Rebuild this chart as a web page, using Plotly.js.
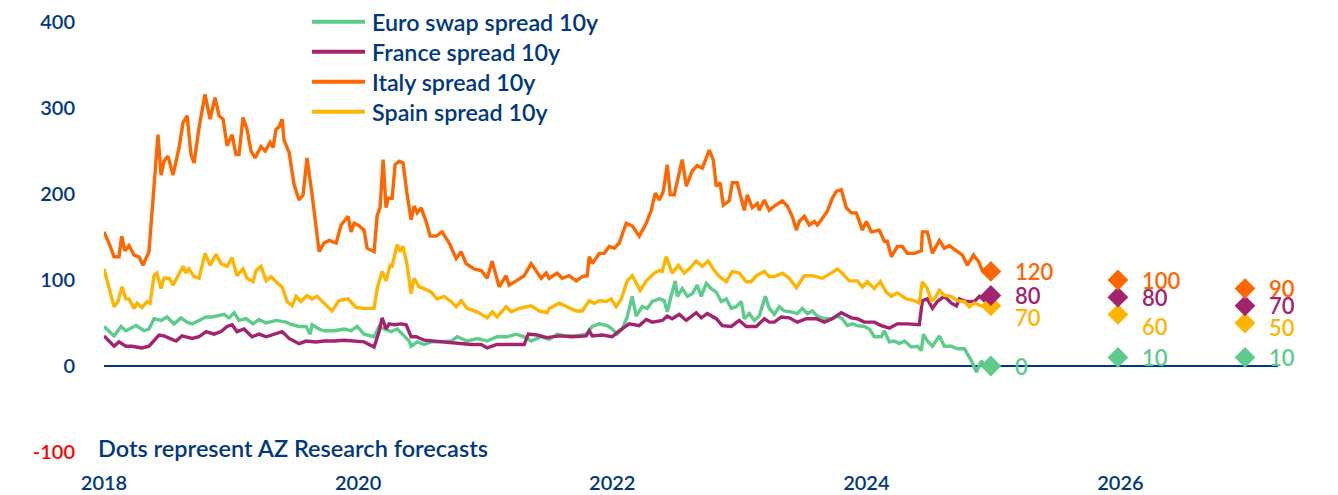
<!DOCTYPE html>
<html>
<head>
<meta charset="utf-8">
<script src="https://cdn.plot.ly/plotly-3.0.1.min.js"></script>
<style>html,body{margin:0;padding:0;background:#fff;}#chart{width:1338px;height:495px;}</style>
</head>
<body>
<div id="chart"></div>
<script>
// ---------- DATA (decimal year, bp) ----------
const seriesNames = ['Euro swap spread 10y', 'France spread 10y', 'Italy spread 10y', 'Spain spread 10y'];

const euroSwap = [[2018.000,46],[2018.039,40],[2018.079,35],[2018.134,46],[2018.173,41],[2018.252,47],[2018.315,41],[2018.354,43],[2018.394,55],[2018.449,53],[2018.496,57],[2018.551,49],[2018.606,56],[2018.654,51],[2018.693,49],[2018.748,53],[2018.803,57],[2018.850,57],[2018.945,60],[2018.984,56],[2019.024,62],[2019.063,53],[2019.118,55],[2019.173,49],[2019.220,54],[2019.276,50],[2019.354,53],[2019.433,51],[2019.480,48],[2019.535,46],[2019.591,46],[2019.622,37],[2019.638,48],[2019.693,43],[2019.732,41],[2019.811,41],[2019.890,43],[2019.945,41],[2019.992,46],[2020.047,37],[2020.126,34],[2020.165,46],[2020.205,43],[2020.260,40],[2020.307,43],[2020.362,35],[2020.402,29],[2020.417,23],[2020.465,28],[2020.520,25],[2020.575,28],[2020.654,28],[2020.732,29],[2020.780,34],[2020.858,29],[2020.937,32],[2021.016,29],[2021.094,34],[2021.173,34],[2021.244,37],[2021.307,34],[2021.362,29],[2021.441,34],[2021.504,31],[2021.567,37],[2021.638,35],[2021.717,35],[2021.795,37],[2021.843,46],[2021.898,49],[2021.961,47],[2022.000,43],[2022.039,37],[2022.079,43],[2022.118,57],[2022.157,81],[2022.189,58],[2022.236,69],[2022.276,67],[2022.315,75],[2022.370,78],[2022.409,76],[2022.433,63],[2022.465,82],[2022.496,99],[2022.512,81],[2022.551,90],[2022.591,81],[2022.630,84],[2022.669,94],[2022.701,81],[2022.740,96],[2022.780,90],[2022.819,86],[2022.858,75],[2022.898,78],[2022.937,67],[2022.976,69],[2023.016,75],[2023.039,55],[2023.079,61],[2023.118,53],[2023.157,58],[2023.205,81],[2023.236,67],[2023.276,60],[2023.315,69],[2023.354,64],[2023.409,63],[2023.457,61],[2023.496,67],[2023.535,61],[2023.575,64],[2023.614,58],[2023.669,55],[2023.724,55],[2023.772,58],[2023.811,55],[2023.850,47],[2023.890,49],[2023.929,47],[2023.984,46],[2024.024,43],[2024.063,34],[2024.118,34],[2024.142,41],[2024.181,28],[2024.220,29],[2024.260,26],[2024.299,29],[2024.354,22],[2024.402,23],[2024.433,18],[2024.449,37],[2024.480,29],[2024.520,23],[2024.575,35],[2024.614,23],[2024.669,23],[2024.717,20],[2024.772,20],[2024.827,6],[2024.866,-7],[2024.906,6],[2024.929,0]];

const france = [[2018.000,35],[2018.039,29],[2018.079,23],[2018.118,28],[2018.173,23],[2018.220,23],[2018.299,21],[2018.354,23],[2018.394,29],[2018.433,36],[2018.472,35],[2018.528,32],[2018.567,29],[2018.614,35],[2018.693,32],[2018.748,34],[2018.803,40],[2018.866,37],[2018.921,40],[2018.969,46],[2019.008,48],[2019.047,40],[2019.102,43],[2019.165,34],[2019.220,37],[2019.276,34],[2019.339,37],[2019.402,40],[2019.457,32],[2019.535,26],[2019.591,29],[2019.669,28],[2019.732,29],[2019.811,29],[2019.890,30],[2019.969,29],[2020.047,28],[2020.126,22],[2020.165,40],[2020.189,56],[2020.220,43],[2020.244,49],[2020.283,48],[2020.339,49],[2020.378,48],[2020.417,34],[2020.457,34],[2020.520,30],[2020.598,29],[2020.677,28],[2020.780,26],[2020.890,25],[2020.969,25],[2021.016,21],[2021.094,25],[2021.205,25],[2021.307,25],[2021.339,37],[2021.409,36],[2021.488,33],[2021.583,35],[2021.685,34],[2021.795,35],[2021.819,41],[2021.843,35],[2021.921,36],[2022.000,34],[2022.055,41],[2022.134,49],[2022.213,47],[2022.268,54],[2022.315,51],[2022.394,53],[2022.433,58],[2022.472,55],[2022.528,60],[2022.583,53],[2022.661,62],[2022.701,56],[2022.748,61],[2022.819,55],[2022.866,47],[2022.937,46],[2023.000,53],[2023.055,46],[2023.134,46],[2023.197,55],[2023.236,51],[2023.276,51],[2023.331,57],[2023.394,56],[2023.457,51],[2023.528,55],[2023.606,55],[2023.669,51],[2023.732,55],[2023.803,62],[2023.882,56],[2023.929,55],[2023.984,51],[2024.063,51],[2024.118,47],[2024.181,44],[2024.244,49],[2024.323,49],[2024.417,48],[2024.441,76],[2024.480,78],[2024.520,67],[2024.559,75],[2024.614,81],[2024.669,73],[2024.709,70],[2024.732,78],[2024.787,75],[2024.850,75],[2024.890,81],[2024.929,76],[2024.976,82]];

const italy = [[2018.000,156],[2018.039,143],[2018.079,127],[2018.118,127],[2018.139,151],[2018.165,134],[2018.197,140],[2018.236,129],[2018.276,127],[2018.307,117],[2018.354,133],[2018.394,207],[2018.425,269],[2018.449,222],[2018.472,238],[2018.504,244],[2018.543,222],[2018.591,254],[2018.622,283],[2018.654,291],[2018.685,246],[2018.709,236],[2018.748,277],[2018.795,316],[2018.835,287],[2018.874,312],[2018.906,291],[2018.937,287],[2018.969,256],[2019.008,269],[2019.039,246],[2019.063,246],[2019.094,289],[2019.126,275],[2019.157,250],[2019.189,242],[2019.236,255],[2019.268,250],[2019.307,260],[2019.331,254],[2019.354,275],[2019.378,278],[2019.402,287],[2019.417,263],[2019.457,248],[2019.496,211],[2019.535,193],[2019.567,199],[2019.598,242],[2019.638,199],[2019.669,160],[2019.693,133],[2019.732,143],[2019.772,146],[2019.827,143],[2019.866,164],[2019.921,174],[2019.945,156],[2019.969,166],[2020.008,163],[2020.047,158],[2020.071,137],[2020.126,133],[2020.150,175],[2020.173,184],[2020.197,240],[2020.220,184],[2020.236,195],[2020.268,195],[2020.291,234],[2020.323,238],[2020.354,236],[2020.386,199],[2020.417,170],[2020.441,186],[2020.465,178],[2020.496,184],[2020.535,168],[2020.567,151],[2020.614,151],[2020.661,156],[2020.717,143],[2020.772,125],[2020.811,133],[2020.850,119],[2020.913,113],[2020.969,111],[2021.016,102],[2021.055,122],[2021.110,92],[2021.165,105],[2021.189,94],[2021.244,99],[2021.307,105],[2021.362,119],[2021.402,110],[2021.441,102],[2021.480,108],[2021.504,102],[2021.567,108],[2021.606,102],[2021.661,105],[2021.717,99],[2021.764,104],[2021.803,105],[2021.819,127],[2021.843,119],[2021.898,131],[2021.937,131],[2021.976,139],[2022.016,137],[2022.055,143],[2022.110,166],[2022.157,163],[2022.213,151],[2022.268,166],[2022.307,181],[2022.339,201],[2022.370,193],[2022.402,203],[2022.433,234],[2022.457,199],[2022.488,199],[2022.551,240],[2022.583,209],[2022.630,227],[2022.669,233],[2022.709,230],[2022.764,251],[2022.795,240],[2022.819,209],[2022.850,213],[2022.874,187],[2022.921,192],[2022.945,213],[2022.984,213],[2023.039,181],[2023.063,199],[2023.102,184],[2023.142,189],[2023.157,181],[2023.197,193],[2023.236,181],[2023.276,186],[2023.339,192],[2023.378,186],[2023.417,174],[2023.449,158],[2023.472,168],[2023.512,174],[2023.551,164],[2023.591,168],[2023.614,164],[2023.646,170],[2023.693,180],[2023.732,195],[2023.764,203],[2023.803,205],[2023.843,184],[2023.882,178],[2023.921,178],[2023.969,158],[2024.000,168],[2024.039,156],[2024.102,158],[2024.142,145],[2024.165,145],[2024.197,127],[2024.244,139],[2024.283,139],[2024.323,131],[2024.378,131],[2024.433,134],[2024.441,156],[2024.480,156],[2024.520,131],[2024.575,146],[2024.614,137],[2024.654,140],[2024.709,134],[2024.756,129],[2024.795,117],[2024.843,129],[2024.882,122],[2024.913,111],[2024.953,111]];

const spain = [[2018.000,113],[2018.039,90],[2018.079,69],[2018.110,75],[2018.142,92],[2018.173,78],[2018.197,78],[2018.236,67],[2018.260,73],[2018.299,68],[2018.339,75],[2018.362,73],[2018.394,105],[2018.417,108],[2018.449,90],[2018.472,102],[2018.512,102],[2018.543,94],[2018.591,108],[2018.622,116],[2018.646,108],[2018.669,113],[2018.709,104],[2018.748,102],[2018.795,131],[2018.835,117],[2018.882,130],[2018.921,119],[2018.969,116],[2019.008,126],[2019.047,105],[2019.094,113],[2019.126,102],[2019.173,98],[2019.197,111],[2019.236,116],[2019.276,99],[2019.315,104],[2019.354,98],[2019.402,92],[2019.441,75],[2019.480,70],[2019.512,81],[2019.551,75],[2019.598,82],[2019.638,78],[2019.677,81],[2019.732,73],[2019.795,64],[2019.850,76],[2019.921,78],[2019.984,68],[2020.047,67],[2020.126,67],[2020.150,90],[2020.189,110],[2020.220,99],[2020.252,117],[2020.268,116],[2020.307,141],[2020.331,133],[2020.354,139],[2020.386,117],[2020.417,84],[2020.441,102],[2020.480,92],[2020.520,90],[2020.575,86],[2020.622,78],[2020.677,81],[2020.732,75],[2020.772,69],[2020.811,76],[2020.858,67],[2020.937,63],[2021.016,56],[2021.055,63],[2021.094,57],[2021.165,69],[2021.205,63],[2021.268,67],[2021.362,70],[2021.425,64],[2021.488,62],[2021.504,67],[2021.583,73],[2021.646,69],[2021.717,64],[2021.764,64],[2021.819,76],[2021.858,73],[2021.898,76],[2021.953,75],[2021.992,78],[2022.031,69],[2022.071,78],[2022.118,99],[2022.157,105],[2022.220,88],[2022.268,99],[2022.331,108],[2022.370,111],[2022.394,110],[2022.425,127],[2022.472,108],[2022.520,117],[2022.567,108],[2022.606,113],[2022.661,122],[2022.709,116],[2022.756,122],[2022.803,111],[2022.843,104],[2022.898,98],[2022.945,110],[2023.000,108],[2023.055,98],[2023.094,98],[2023.134,105],[2023.197,110],[2023.236,104],[2023.276,104],[2023.339,108],[2023.394,102],[2023.449,91],[2023.512,105],[2023.575,105],[2023.614,104],[2023.654,102],[2023.724,108],[2023.772,113],[2023.811,108],[2023.866,99],[2023.929,99],[2023.969,92],[2024.008,98],[2024.063,90],[2024.110,98],[2024.157,86],[2024.197,81],[2024.244,85],[2024.315,78],[2024.378,76],[2024.417,73],[2024.441,98],[2024.480,90],[2024.512,76],[2024.535,78],[2024.575,88],[2024.614,82],[2024.669,81],[2024.717,76],[2024.772,75],[2024.811,69],[2024.850,73],[2024.906,70],[2024.953,69]];

// AZ Research forecasts (end-2024, end-2025, end-2026)
const forecastYears = [2024.98, 2025.98, 2026.98];
const euroForecast = [0, 10, 10];
const franceForecast = [82, 80, 70];
const italyForecast = [110, 100, 90];
const spainForecast = [70, 60, 50];
const euroLabels = ['0', '10', '10'];
const franceLabels = ['80', '80', '70'];
const italyLabels = ['120', '100', '90'];
const spainLabels = ['70', '60', '50'];

const xTickVals = [2018, 2020, 2022, 2024, 2026];
const xTickText = ['2018', '2020', '2022', '2024', '2026'];
const yTickVals = [-100, 0, 100, 200, 300, 400];
const yTickText = ['-100', '0', '100', '200', '300', '400'];
const noteText = 'Dots represent AZ Research forecasts';

// ---------- STYLE ----------
const NAVY = '#003781';
const FONT = 'Lato, "Open Sans", sans-serif';
const colors = ['#5CCB8B', '#A3236F', '#FF6600', '#FFB400'];
const W = 1338, H = 495;
const M = {l: 104, r: 60, t: 22, b: 43};
const px2x = p => (p - M.l) / (W - M.l - M.r);
const px2y = p => (H - M.b - p) / (H - M.t - M.b);

const hist = [euroSwap, france, italy, spain];
const fc = [euroForecast, franceForecast, italyForecast, spainForecast];
const fcLab = [euroLabels, franceLabels, italyLabels, spainLabels];
// vertical nudges (px) of the forecast value labels, per series and per year
const labelShift = [[0, 0, 0], [0, 0, 0], [0, 0, 0], [-12, -12, -4]];

const traces = [];
hist.forEach((s, i) => {
  traces.push({
    x: s.map(p => p[0]), y: s.map(p => p[1]),
    type: 'scatter', mode: 'lines', name: seriesNames[i],
    line: {color: colors[i], width: 3.4}, showlegend: false, hoverinfo: 'skip'
  });
});
[0, 3, 1, 2].forEach(i => {
  traces.push({
    x: forecastYears, y: fc[i], type: 'scatter', mode: 'markers',
    marker: {symbol: 'diamond', size: 16, color: colors[i]},
    showlegend: false, hoverinfo: 'skip', cliponaxis: false
  });
});

const annotations = [];
fc.forEach((vals, i) => {
  vals.forEach((v, j) => {
    annotations.push({
      x: forecastYears[j], y: v, xref: 'x', yref: 'y', text: fcLab[i][j],
      showarrow: false, xanchor: 'left', yanchor: 'middle',
      xshift: 22, yshift: labelShift[i][j],
      font: {family: FONT, size: 22, weight: 600, color: colors[i]}
    });
  });
});
annotations.push({
  x: px2x(96), y: px2y(448), xref: 'paper', yref: 'paper', text: noteText,
  showarrow: false, xanchor: 'left', yanchor: 'middle',
  font: {family: FONT, size: 23.5, weight: 600, color: NAVY}
});

// manual legend
const shapes = [];
seriesNames.forEach((n, i) => {
  const py = 21.7 + 30 * i;
  shapes.push({
    type: 'line', xref: 'paper', yref: 'paper',
    x0: px2x(312), x1: px2x(365), y0: px2y(py), y1: px2y(py),
    line: {color: colors[i], width: 4}
  });
  annotations.push({
    x: px2x(370), y: px2y(py), xref: 'paper', yref: 'paper', text: n,
    showarrow: false, xanchor: 'left', yanchor: 'middle',
    font: {family: FONT, size: 23.3, weight: 600, color: NAVY}
  });
});

const yText = yTickText.map(t => t === '-100' ? '<span style="color:#FF0000">' + t + '</span>' : t);

const layout = {
  width: W, height: H, margin: M,
  paper_bgcolor: '#fff', plot_bgcolor: '#fff',
  font: {family: FONT, color: NAVY, size: 20},
  showlegend: false,
  xaxis: {
    range: [2018, 2027.24], tickvals: xTickVals, ticktext: xTickText,
    showgrid: false, zeroline: false, showline: false, ticks: '',
    ticklabelstandoff: 17, tickfont: {family: FONT, size: 20, weight: 600, color: NAVY}
  },
  yaxis: {
    range: [-100, 400], tickvals: yTickVals, ticktext: yText,
    showgrid: false, zeroline: true, zerolinecolor: NAVY, zerolinewidth: 2,
    showline: false, ticks: '', ticklabelstandoff: 28,
    tickfont: {family: FONT, size: 20, weight: 600, color: NAVY}
  },
  shapes: shapes,
  annotations: annotations
};

Plotly.newPlot('chart', traces, layout, {displayModeBar: false, staticPlot: true});
</script>
</body>
</html>
